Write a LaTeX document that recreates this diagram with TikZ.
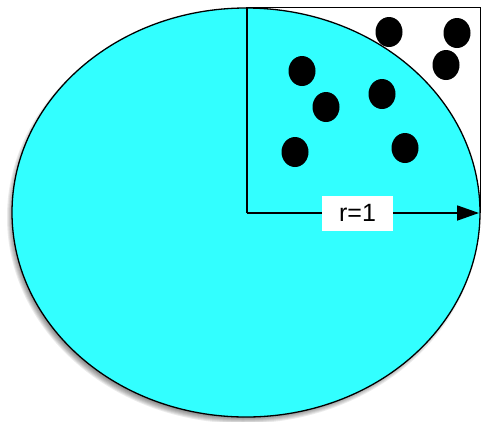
\documentclass[tikz,border=0pt]{standalone}
\usepackage{fontspec}
\setmainfont{Liberation Sans}
\usetikzlibrary{arrows.meta,shapes.geometric}
\definecolor{disk}{RGB}{50,255,255}
\begin{document}
\begin{tikzpicture}[x=1pt,y=-1pt,
  dot/.style={fill=black,draw=none,ellipse,minimum width=27pt,minimum height=30pt,inner sep=0pt},
  outline/.style={draw=black,line width=1.5pt},
  lab/.style={fill=white,inner sep=0pt,minimum width=71pt,minimum height=35pt,font=\fontsize{25}{27}\selectfont}]
\useasboundingbox (0,0) rectangle (482,421);
% white square behind
\fill[white] (247,7) rectangle (481,213);
% blurred shadow
\foreach \i in {0,1,...,9}{
  \fill[black,opacity=0.08] (243,217) ellipse [x radius=227+\i, y radius=197.5+\i];
}
% disk
\fill[disk] (246,212.5) ellipse [x radius=234, y radius=204.5];
\draw[line width=1.3pt] (246,212.5) ellipse [x radius=234, y radius=204.5];
% square border
\draw[outline] (247,213) -- (247,7.5) -- (480.5,7.5) -- (480.5,213);
\coordinate (o) at (247,213);
\coordinate (e) at (479,213);
% dots
\node[dot] (d1) at (389,32) {};
\node[dot] (d2) at (457,33) {};
\node[dot] (d3) at (446,65) {};
\node[dot] (d4) at (302,71) {};
\node[dot] (d5) at (382,94) {};
\node[dot] (d6) at (326,107) {};
\node[dot] (d7) at (295,152) {};
\node[dot] (d8) at (405,148) {};
% radius arrow
\draw[line width=1.8pt,-{Triangle[length=22pt,width=15pt]}] (o) -- (e);
\node[lab] (r) at (357.5,213) {r=1};
\end{tikzpicture}
\end{document}
